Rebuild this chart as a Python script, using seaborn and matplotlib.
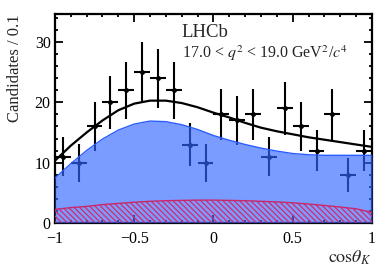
import numpy as np
import pandas as pd
import seaborn as sns
import matplotlib.pyplot as plt
from matplotlib.ticker import MultipleLocator

# binned data, 20 bins of width 0.1 in cos(theta_K)
bin_centres = [-0.95, -0.85, -0.75, -0.65, -0.55, -0.45, -0.35, -0.25, -0.15, -0.05,
               0.05, 0.15, 0.25, 0.35, 0.45, 0.55, 0.65, 0.75, 0.85, 0.95]
counts = [11, 10, 16, 20, 22, 25, 24, 22, 13, 10,
          18, 17, 18, 11, 19, 16, 12, 18, 8, 12]

# fit curves on a 0.1 grid
curve_x = [-1.0, -0.9, -0.8, -0.7, -0.6, -0.5, -0.4, -0.3, -0.2, -0.1, 0.0,
           0.1, 0.2, 0.3, 0.4, 0.5, 0.6, 0.7, 0.8, 0.9, 1.0]
total_fit = [10.3, 12.8, 15.0, 17.0, 18.7, 19.8, 20.3, 20.3, 19.9, 19.2, 18.3,
             17.5, 16.6, 15.8, 15.2, 14.7, 14.2, 13.8, 13.4, 13.0, 12.6]
signal_fit = [7.4, 9.8, 12.0, 13.9, 15.4, 16.4, 16.9, 16.8, 16.3, 15.5, 14.5,
              13.7, 13.0, 12.4, 11.9, 11.5, 11.3, 11.2, 11.2, 11.2, 11.2]
bkg_fit = [2.2, 2.5, 2.7, 3.0, 3.2, 3.4, 3.55, 3.65, 3.7, 3.75, 3.75,
           3.7, 3.65, 3.55, 3.45, 3.3, 3.1, 2.85, 2.6, 2.3, 1.7]

sns.set_theme(style="ticks")
plt.rcParams['font.family'] = ['Liberation Serif', 'DejaVu Serif']
plt.rcParams['mathtext.fontset'] = 'stix'
plt.rcParams['hatch.color'] = '#d62a6a'
plt.rcParams['hatch.linewidth'] = 0.9

df = pd.DataFrame({'x': curve_x, 'total': total_fit, 'sig': signal_fit, 'bkg': bkg_fit})

fig = plt.figure(figsize=(3.92, 2.66), dpi=100)
ax = fig.add_axes([0.140, 0.163, 0.809, 0.784])

err = np.sqrt(counts)
ax.errorbar(bin_centres, counts, yerr=err, xerr=0.05, fmt='o', color='black',
            ms=2.5, elinewidth=1.5, capsize=0, zorder=2)

ax.fill_between(df['x'], 0, df['sig'], color='#3366ff', alpha=0.65, lw=0, zorder=3)
sns.lineplot(data=df, x='x', y='sig', color='#2a5cff', lw=1.0, ax=ax, zorder=4)
ax.fill_between(df['x'], 0, df['bkg'], facecolor='none', edgecolor='#d62a6a',
                hatch='\\\\\\\\\\\\', lw=0, zorder=4)
sns.lineplot(data=df, x='x', y='bkg', color='#c8286a', lw=1.0, ax=ax, zorder=5)
sns.lineplot(data=df, x='x', y='total', color='black', lw=1.6, ax=ax, zorder=6)

ax.set_xlim(-1, 1)
ax.set_ylim(0, 34.7)
ax.xaxis.set_major_locator(MultipleLocator(0.5))
ax.xaxis.set_minor_locator(MultipleLocator(0.1))
ax.yaxis.set_major_locator(MultipleLocator(10))
ax.yaxis.set_minor_locator(MultipleLocator(2))
ax.set_xticks([-1, -0.5, 0, 0.5, 1])
ax.set_xticklabels(['\u22121', '\u22120.5', '0', '0.5', '1'])
ax.tick_params(which='both', direction='in', top=True, right=True, width=1.3,
               labelsize=11.5, colors='black')
ax.tick_params(axis='x', pad=6)
ax.tick_params(axis='y', pad=3)
ax.tick_params(which='major', length=5.5)
ax.tick_params(which='minor', length=2.5)
for s in ax.spines.values():
    s.set_linewidth(1.6)
    s.set_color('black')

ax.set_xlabel(r'$\mathrm{cos}\theta_K$', fontsize=13, labelpad=1)
ax.xaxis.set_label_coords(1.0, -0.125)
ax.xaxis.label.set_horizontalalignment('right')
ax.set_ylabel('Candidates / 0.1', fontsize=12)
ax.yaxis.set_label_coords(-0.15, 1.0)
ax.yaxis.label.set_verticalalignment('top')
ax.yaxis.label.set_horizontalalignment('right')

ax.text(0.40, 0.89, 'LHCb', transform=ax.transAxes, fontsize=13.5, va='baseline')
ax.text(0.40, 0.79, r'17.0 < $q^2$ < 19.0 GeV$^2$/$c^4$', transform=ax.transAxes,
        fontsize=11.5, va='baseline')

fig.savefig('out.png', dpi=100)
